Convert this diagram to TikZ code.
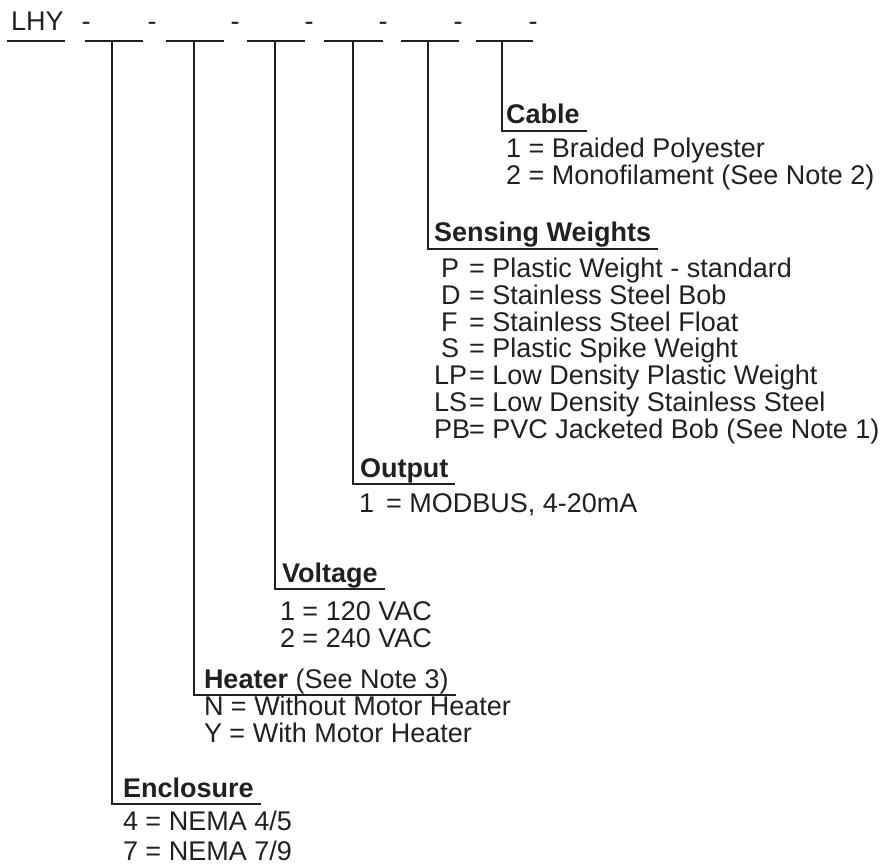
\documentclass[tikz,border=0pt]{standalone}
\usepackage{fontspec}
\setmainfont{Liberation Sans}
\usetikzlibrary{positioning}
\definecolor{ink}{RGB}{35,31,32}
\tikzset{
	entry/.style={anchor=base west, inner sep=0pt, outer sep=0pt, text=ink, font=\fontsize{13.5}{16}\selectfont},
	heading/.style={anchor=base west, inner xsep=3.5pt, inner ysep=3.5pt, outer sep=0pt, text depth=0pt, text=ink, font=\fontsize{13.5}{16}\selectfont\bfseries},
	rule/.style={draw=ink, line width=1pt},
}

\begin{document}
\begin{tikzpicture}[x=0.5pt, y=-0.5pt]
	\useasboundingbox (0,0) rectangle (882,865);
	
	% model code
	\node[entry] (lhy) at (11,31) {LHY};
	\draw[rule] (7,41) coordinate (lhyl) -- (65,41) coordinate (lhyr);
	\node[entry] (d0) at (81.5,31) {-};
	\node[entry] (d1) at (147.5,31) {-};
	\node[entry] (d2) at (230.5,31) {-};
	\node[entry] (d3) at (304.5,31) {-};
	\node[entry] (d4) at (378.5,31) {-};
	\node[entry] (d5) at (453.5,31) {-};
	\node[entry] (d6) at (528.5,31) {-};
	
	% blanks
	\draw[rule] (85,41) -- (143,41);
	\draw[rule] (166,41) -- (224,41);
	\draw[rule] (247,41) -- (305,41);
	\draw[rule] (324,41) -- (383,41);
	\draw[rule] (401,41) -- (459,41);
	\draw[rule] (476,41) -- (533,41);
	\coordinate (v1) at (112,41);
	\coordinate (v2) at (194,41);
	\coordinate (v3) at (275,41);
	\coordinate (v4) at (353,41);
	\coordinate (v5) at (428,41);
	\coordinate (v6) at (502,41);
	
	% Cable
	\node[heading] (cable) at (499,124) {Cable};
	\draw[rule] (v6) |- (cable.south east);
	\node[entry] (cab1) at (506,158) {1 = Braided Polyester};
	\node[entry] (cab2) at (506,185) {2 = Monofilament (See Note 2)};
	
	% Sensing Weights
	\node[heading] (sensing) at (427,242) {Sensing Weights};
	\draw[rule] (v5) |- (sensing.south east);
	\node[entry] (wP) at (441,278) {P};   \node[entry] (wPt) at (469,278) {= Plastic Weight - standard};
	\node[entry] (wD) at (441,305) {D};   \node[entry] (wDt) at (469,305) {= Stainless Steel Bob};
	\node[entry] (wF) at (441,332) {F};   \node[entry] (wFt) at (469,332) {= Stainless Steel Float};
	\node[entry] (wS) at (441,358) {S};   \node[entry] (wSt) at (469,358) {= Plastic Spike Weight};
	\node[entry] (wLP) at (434,385) {LP}; \node[entry] (wLPt) at (469,385) {= Low Density Plastic Weight};
	\node[entry] (wLS) at (434,412) {LS}; \node[entry] (wLSt) at (469,412) {= Low Density Stainless Steel};
	\node[entry] (wPB) at (434,438) {PB}; \node[entry] (wPBt) at (469,438) {= PVC Jacketed Bob (See Note 1)};
	
	% Output
	\node[heading] (output) at (353,477) {Output};
	\draw[rule] (v4) |- (output.south east);
	\node[entry] (out1) at (359,512) {1\,\ = MODBUS, 4-20mA};
	
	% Voltage
	\node[heading] (voltage) at (275,582) {Voltage};
	\draw[rule] (v3) |- (voltage.south east);
	\node[entry] (volt1) at (280,620) {1 = 120 VAC};
	\node[entry] (volt2) at (280,647) {2 = 240 VAC};
	
	% Heater
	\node[heading] (heater) at (197,688) {Heater \mdseries(See Note 3)};
	\draw[rule] (v2) |- (heater.south east);
	\node[entry] (heatN) at (204,715) {N = Without Motor Heater};
	\node[entry] (heatY) at (204,742) {Y = With Motor Heater};
	
	% Enclosure
	\node[heading] (enclosure) at (116,797) {Enclosure};
	\draw[rule] (v1) |- (enclosure.south east);
	\node[entry] (enc4) at (123,830) {4 = NEMA 4/5};
	\node[entry] (enc7) at (123,860) {7 = NEMA 7/9};
	
\end{tikzpicture}
\end{document}
